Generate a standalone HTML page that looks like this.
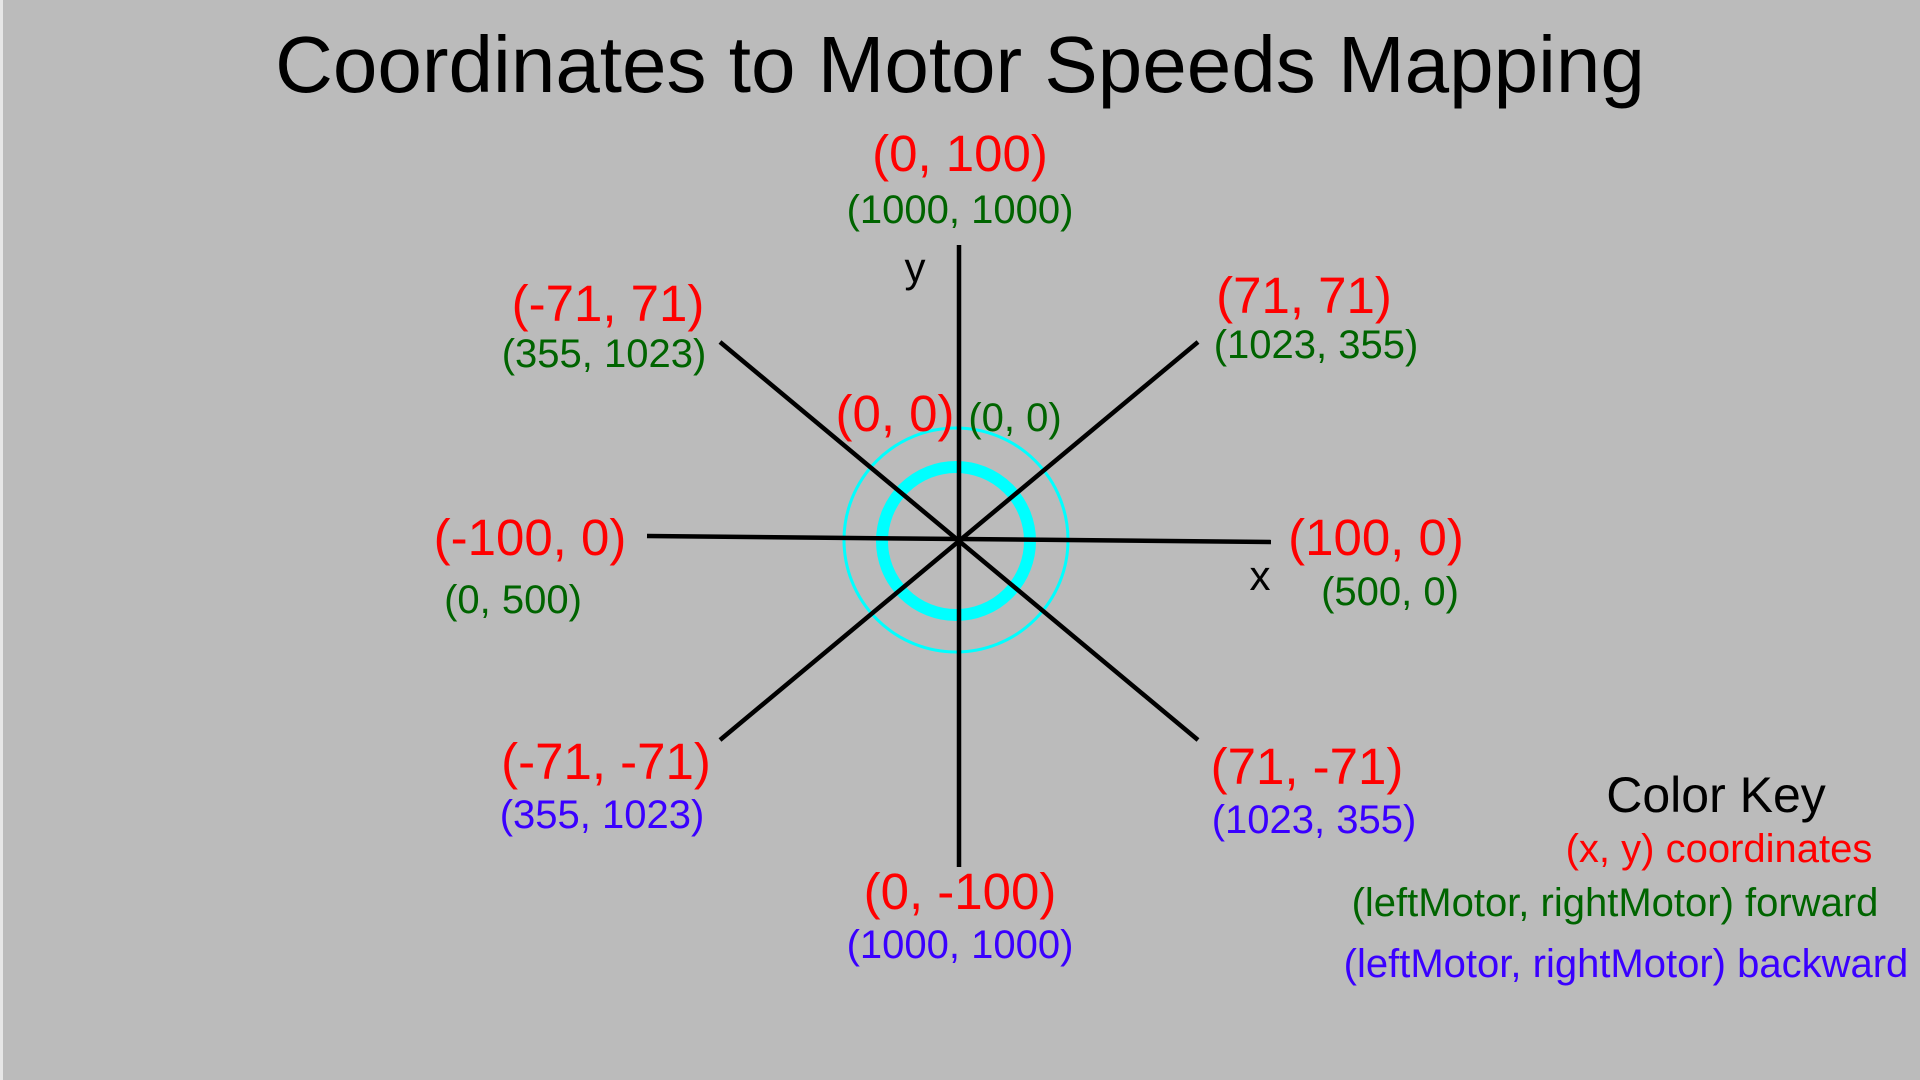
<!DOCTYPE html>
<html><head><meta charset="utf-8"><style>
html,body{margin:0;padding:0;width:1920px;height:1080px;overflow:hidden;background:#bbbbbb;}
svg{display:block;font-family:"Liberation Sans",Arial,sans-serif;}
</style></head><body>
<svg width="1920" height="1080" viewBox="0 0 1920 1080">
<rect x="0" y="0" width="1920" height="1080" fill="#bbbbbb"/>
<rect x="0" y="0" width="3" height="1080" fill="#e6e6e6"/>
<text x="960" y="92" font-size="80" text-anchor="middle" fill="#000">Coordinates to Motor Speeds Mapping</text>
<g>
<circle cx="956" cy="540" r="112" fill="none" stroke="#00ffff" stroke-width="3"/>
<circle cx="956" cy="541" r="74" fill="none" stroke="#00ffff" stroke-width="12"/>
</g>
<g stroke="#000" stroke-width="4.5">
<line x1="959" y1="245" x2="959" y2="867"/>
<line x1="647" y1="536" x2="1271" y2="542"/>
<line x1="720" y1="740" x2="1198" y2="342"/>
<line x1="720" y1="342" x2="1198" y2="740"/>
</g>
<g text-anchor="middle">
<text x="915" y="282" font-size="42" fill="#000">y</text>
<text x="1260" y="590" font-size="42" fill="#000">x</text>
<g font-size="51" fill="#ff0000">
<text x="960" y="171">(0, 100)</text>
<text x="608" y="321">(-71, 71)</text>
<text x="1304" y="313">(71, 71)</text>
<text x="895" y="431">(0, 0)</text>
<text x="530" y="555">(-100, 0)</text>
<text x="1376" y="555">(100, 0)</text>
<text x="606" y="779">(-71, -71)</text>
<text x="1307" y="784">(71, -71)</text>
<text x="960" y="909">(0, -100)</text>
</g>
<g font-size="40" fill="#006400">
<text x="960" y="223">(1000, 1000)</text>
<text x="604" y="367">(355, 1023)</text>
<text x="1316" y="358">(1023, 355)</text>
<text x="1015" y="431">(0, 0)</text>
<text x="513" y="613">(0, 500)</text>
<text x="1390" y="605">(500, 0)</text>
</g>
<g font-size="40" fill="#3a00ff">
<text x="602" y="828">(355, 1023)</text>
<text x="1314" y="833">(1023, 355)</text>
<text x="960" y="958">(1000, 1000)</text>
</g>
</g>
<g text-anchor="middle">
<text x="1716" y="812" font-size="50" fill="#000">Color Key</text>
<text x="1719" y="862" font-size="40" fill="#ff0000">(x, y) coordinates</text>
<text x="1615" y="916" font-size="40" fill="#006400">(leftMotor, rightMotor) forward</text>
<text x="1626" y="977" font-size="40" fill="#3a00ff">(leftMotor, rightMotor) backward</text>
</g>
</svg>
</body></html>
